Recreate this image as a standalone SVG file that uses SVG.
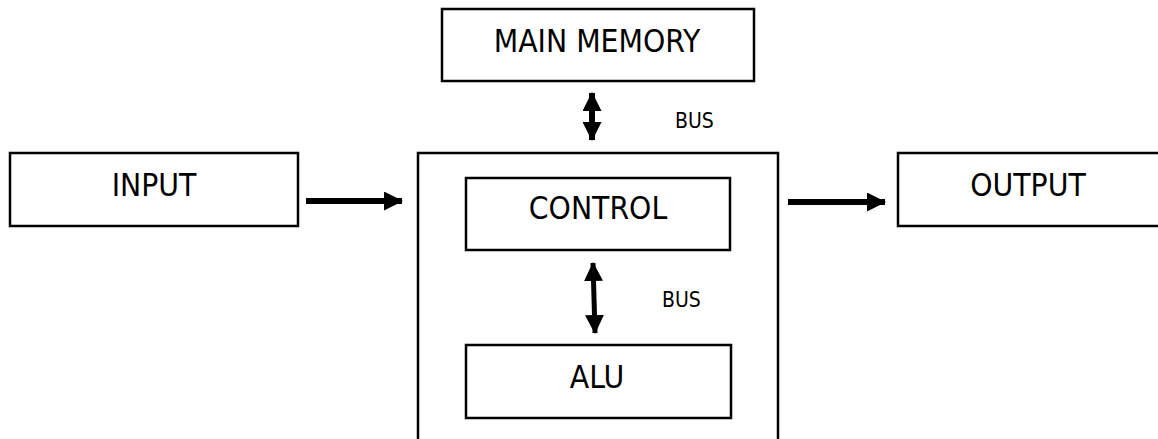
<svg xmlns="http://www.w3.org/2000/svg" width="1158" height="439" viewBox="0 0 1158 439">
  <style>
    .box { fill: #ffffff; stroke: #000000; stroke-width: 2.5; }
    .lbl { font-family: 'DejaVu Sans Condensed', 'DejaVu Sans', sans-serif; font-stretch: condensed; font-size: 31.5px; fill: #000000; text-anchor: middle; }
    .bus { font-family: 'DejaVu Sans Condensed', 'DejaVu Sans', sans-serif; font-stretch: condensed; font-size: 21px; fill: #000000; }
    .conn { stroke: #000000; fill: none; }
  </style>
  <defs>
    <marker id="head" markerUnits="userSpaceOnUse" markerWidth="19" markerHeight="19" refX="18" refY="9.5" orient="auto-start-reverse" viewBox="0 0 19 19">
      <path d="M0,0 L19,9.5 L0,19 Z" fill="#000000"/>
    </marker>
  </defs>
  <rect width="1158" height="439" fill="#ffffff"/>

  <g id="cpu">
    <rect class="box" x="418" y="153" width="360" height="300"/>
  </g>
  <g id="main-memory">
    <rect class="box" x="442" y="9" width="312" height="72"/>
    <text class="lbl" x="597" y="52">MAIN MEMORY</text>
  </g>
  <g id="input">
    <rect class="box" x="10" y="153" width="288" height="73"/>
    <text class="lbl" x="154" y="196">INPUT</text>
  </g>
  <g id="output">
    <rect class="box" x="898" y="153" width="270" height="73"/>
    <text class="lbl" x="1028" y="196">OUTPUT</text>
  </g>
  <g id="control">
    <rect class="box" x="466" y="178" width="264" height="72"/>
    <text class="lbl" x="598" y="219">CONTROL</text>
  </g>
  <g id="alu">
    <rect class="box" x="466" y="345" width="265" height="73"/>
    <text class="lbl" x="597" y="388">ALU</text>
  </g>

  <g id="connectors">
    <line class="conn" x1="306" y1="201" x2="402" y2="201" stroke-width="6" marker-end="url(#head)"/>
    <line class="conn" x1="788" y1="202" x2="885" y2="202" stroke-width="6" marker-end="url(#head)"/>
    <line class="conn" x1="592" y1="93" x2="592" y2="140" stroke-width="6" marker-start="url(#head)" marker-end="url(#head)"/>
    <line class="conn" x1="593" y1="263" x2="595" y2="333" stroke-width="5" marker-start="url(#head)" marker-end="url(#head)"/>
    <text class="bus" x="675" y="128">BUS</text>
    <text class="bus" x="662" y="307">BUS</text>
  </g>
</svg>
